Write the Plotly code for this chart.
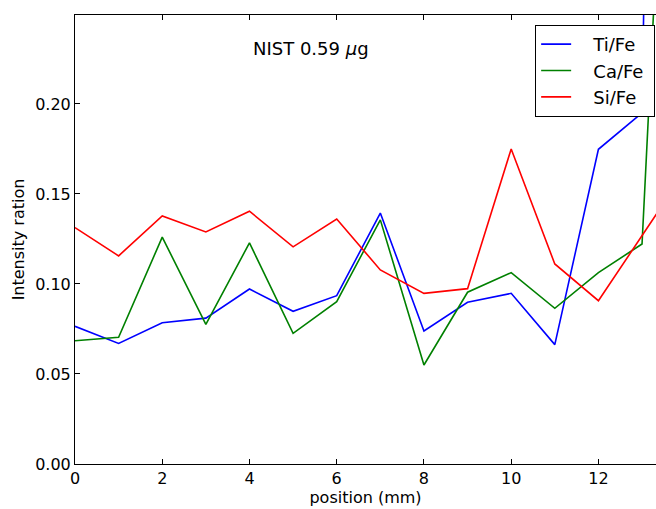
import plotly.graph_objects as go

positions = list(range(15))
ti_fe = [0.0765, 0.067, 0.0785, 0.081, 0.0972, 0.0848, 0.0935, 0.1394, 0.0739, 0.0898, 0.0948, 0.0663, 0.1748, 0.195, 1.7]
ca_fe = [0.0685, 0.0704, 0.126, 0.0776, 0.1228, 0.0726, 0.0902, 0.1356, 0.055, 0.0954, 0.1063, 0.0865, 0.1063, 0.1222, 0.61]
si_fe = [0.1313, 0.1156, 0.1378, 0.1289, 0.1404, 0.1206, 0.1361, 0.1078, 0.0948, 0.0974, 0.175, 0.1111, 0.0907, 0.127, 0.163]

series = [("Ti/Fe", ti_fe, "#0000ff"), ("Ca/Fe", ca_fe, "#008000"), ("Si/Fe", si_fe, "#ff0000")]

NB = "\u00a0"
FONT = "DejaVu Sans"
fig = go.Figure()
for name, vals, col in series:
    fig.add_trace(go.Scatter(x=positions, y=vals, mode="lines", name=NB * 3 + name + NB,
                             line=dict(color=col, width=1.6)))

fig.add_annotation(x=5.4, y=0.231, xref="x", yref="y", text="NIST 0.59 <i>μ</i>g",
                   showarrow=False, font=dict(family=FONT, size=18, color="black"))

fig.update_layout(
    width=656, height=509,
    margin=dict(l=75, r=0, t=15, b=45, autoexpand=False),
    paper_bgcolor="white", plot_bgcolor="white",
    font=dict(family=FONT, size=16, color="black"),
    showlegend=True,
    legend=dict(x=0.792, y=0.978, xanchor="left", yanchor="top",
                bordercolor="black", borderwidth=1, bgcolor="white",
                font=dict(family=FONT, size=18), itemwidth=30,
                tracegroupgap=0),
    xaxis=dict(range=[0, 13.32], tickvals=[0, 2, 4, 6, 8, 10, 12],
               ticks="inside", ticklen=5, tickcolor="black",
               showline=True, linecolor="black", linewidth=1, mirror="ticks",
               showgrid=False, zeroline=False, automargin=False,
               title=dict(text="position (mm)", font=dict(size=16), standoff=2)),
    yaxis=dict(range=[0, 0.2494], tickvals=[0, 0.05, 0.10, 0.15, 0.20],
               tickformat=".2f",
               ticks="inside", ticklen=5, tickcolor="black",
               showline=True, linecolor="black", linewidth=1, mirror=False,
               showgrid=False, zeroline=False, automargin=False,
               title=dict(text="Intensity ration", font=dict(size=16), standoff=6)),
)

fig.write_html("out.html", config={"displayModeBar": False},
               post_script="document.body.style.margin='0';document.body.style.overflow='hidden';")
